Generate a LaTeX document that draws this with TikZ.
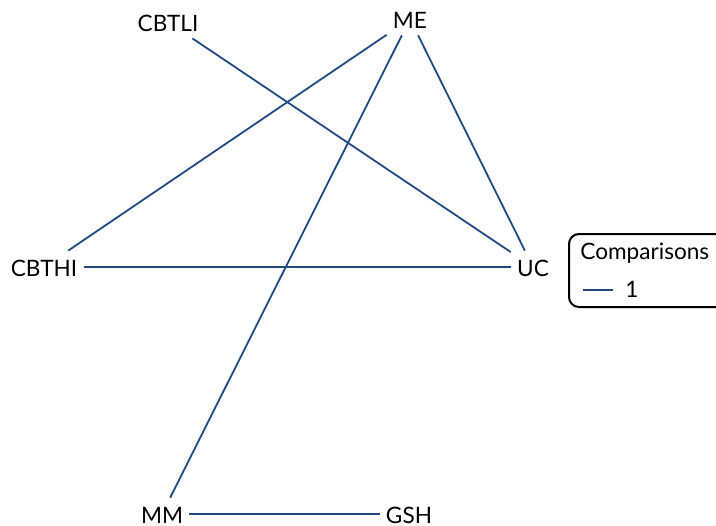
\documentclass[tikz,border=0pt]{standalone}
\usepackage{fontspec}
\setmainfont{Lato}
\usepackage{xcolor}
\usetikzlibrary{positioning,calc}
\definecolor{edgeblue}{HTML}{1F4A84}

\begin{document}
\begin{tikzpicture}[
  x=0.5pt, y=-0.5pt,
  trt/.style={inner sep=3pt, text height=0.95em, text depth=0.05em, font=\fontsize{11.3}{13.5}\selectfont},
  cmp/.style={draw=edgeblue, line width=0.9pt},
  legbox/.style={draw, line width=1pt, rounded corners=5pt}
]
\useasboundingbox (0,0) rectangle (716,525);
% treatments
\node[trt] (cbtli) at (168,22) {CBTLI};
\node[trt] (me) at (410,19) {ME};
\node[trt] (cbthi) at (44,267) {CBTHI};
\node[trt] (uc) at (533,267) {UC};
\node[trt] (mm) at (162,514) {MM};
\node[trt] (gsh) at (409,514) {GSH};
% comparisons
\draw[cmp] (cbtli) -- (uc);
\draw[cmp] (me) -- (cbthi);
\draw[cmp] (me) -- (mm);
\draw[cmp] (me) -- (uc);
\draw[cmp] (cbthi) -- (uc);
\draw[cmp] (mm) -- (gsh);
% legend
\draw[legbox] (569,234) rectangle (745,307);
\node[trt, anchor=west, inner sep=0pt] (legtitle) at (580,250) {Comparisons};
\coordinate (legA) at (583,290);
\coordinate (legB) at (613,290);
\draw[cmp] (legA) -- (legB);
\node[trt, anchor=west, inner sep=0pt] (legone) at (625,288) {1};
\end{tikzpicture}
\end{document}
